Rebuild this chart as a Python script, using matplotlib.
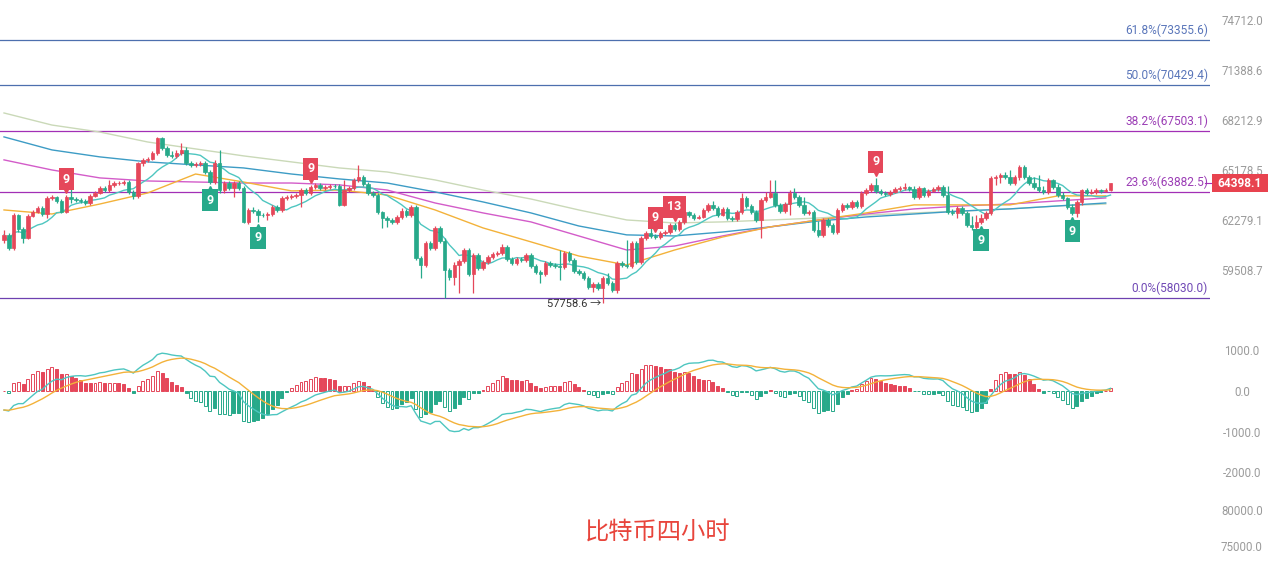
import numpy as np
import matplotlib
matplotlib.use("Agg")
import matplotlib.pyplot as plt
from matplotlib.ticker import FixedLocator, NullLocator, FormatStrFormatter
from matplotlib.transforms import blended_transform_factory, offset_copy, IdentityTransform
from matplotlib.patches import Rectangle

plt.rcParams['font.family'] = ['Roboto', 'Noto Sans CJK SC', 'DejaVu Sans']

# ---------------- data (4h BTC candles) ----------------
first_open = 61160
close = [61440, 60710, 62560, 61770, 61270, 62510, 62740, 62960, 62620, 63540,
         63600, 63370, 62740, 63600, 63480, 63420, 63370, 63250, 63660, 63830,
         64120, 64000, 64300, 64410, 64420, 64470, 63890, 63660, 65600, 65780,
         65840, 66200, 67110, 66500, 66080, 66020, 66200, 66380, 65600, 65480,
         65540, 65600, 65060, 64470, 65600, 64000, 64410, 64120, 64410, 64120,
         62170, 62850, 62790, 62560, 62550, 62620, 63020, 62850, 63540, 63600,
         63660, 63710, 64000, 63830, 64180, 64300, 64120, 64180, 64240, 64230,
         63140, 64000, 64120, 64590, 64770, 64350, 63830, 63710, 62740, 62390,
         62280, 62170, 62450, 62790, 62560, 63020, 60160, 59780, 60990, 60710,
         61830, 61100, 59510, 59130, 59780, 60000, 60600, 59290, 60330, 59620,
         59950, 60220, 60380, 60440, 60770, 60110, 59890, 60110, 60050, 60330,
         59730, 59400, 59290, 59890, 59780, 59730, 59670, 60440, 60050, 59460,
         59350, 59080, 58600, 58760, 58540, 59080, 58810, 58440, 59890, 59780,
         59730, 60990, 59950, 61270, 61550, 61380, 61320, 61550, 61600, 62000,
         61770, 62170, 62740, 62560, 62390, 62450, 62850, 63140, 62960, 62560,
         62910, 62390, 62340, 62740, 63540, 63080, 62740, 62280, 63420, 63600,
         63830, 63140, 62790, 63190, 63830, 63600, 63140, 62680, 62740, 61720,
         61440, 62280, 62000, 61600, 62850, 63140, 63020, 63310, 63080, 63830,
         64000, 64300, 63950, 63830, 63770, 63890, 64060, 64120, 64180, 64060,
         63600, 64120, 63710, 63950, 64060, 64180, 63710, 62740, 62680, 62960,
         62680, 62000, 61890, 62170, 62390, 62680, 64710, 64770, 64880, 64770,
         64410, 64770, 65360, 64770, 64410, 64180, 64000, 63890, 64590, 64180,
         63710, 63540, 63020, 62680, 63310, 64000, 63830, 63890, 64000, 63950,
         64000, 64398.1]
high = [61720, 61550, 62680, 62620, 61890, 62620, 62850, 63080, 63080, 63660,
        63710, 63660, 63480, 63710, 64180, 63600, 63540, 63480, 63770, 63950,
        64240, 64240, 64590, 64530, 64530, 64590, 64590, 64000, 65660, 65900,
        65960, 66320, 67170, 67170, 66620, 66320, 66380, 66800, 66560, 65720,
        65660, 65720, 65720, 65180, 65780, 66380, 64530, 64530, 64530, 64530,
        64240, 62960, 63020, 62910, 62680, 62740, 63140, 63140, 63660, 63710,
        63770, 63830, 64120, 64120, 64300, 64410, 64410, 64300, 64350, 64350,
        64350, 64590, 64240, 64710, 65480, 64880, 64470, 63950, 63830, 62790,
        62510, 62390, 62560, 62960, 62910, 63140, 63140, 60270, 61100, 61100,
        61940, 61940, 61270, 59620, 59950, 60110, 60710, 60710, 60440, 60440,
        60050, 60330, 60490, 60550, 60940, 60880, 60220, 60220, 60220, 60440,
        60440, 59840, 59510, 60000, 60000, 59890, 60600, 60550, 60550, 60160,
        59560, 59460, 59190, 58860, 58860, 59190, 59350, 58920, 60000, 60000,
        61160, 61100, 61100, 61380, 61660, 61940, 61490, 61660, 61720, 62110,
        62110, 62280, 62850, 62790, 62680, 62560, 62960, 63250, 63370, 63080,
        63020, 63020, 62510, 62850, 63830, 63660, 63190, 62850, 63540, 63890,
        64590, 64590, 63250, 63310, 64000, 64120, 63710, 63600, 62850, 62850,
        62220, 62390, 62390, 62110, 62960, 63250, 63250, 63420, 63420, 63950,
        64120, 64410, 64710, 64060, 63950, 64000, 64180, 64240, 64410, 64240,
        64240, 64240, 64180, 64060, 64180, 64300, 64300, 64240, 62910, 63080,
        63080, 62790, 62510, 62560, 62620, 62790, 64820, 64880, 65000, 65060,
        65180, 64880, 65480, 65480, 64880, 64770, 64880, 64240, 64710, 64650,
        64350, 63890, 63600, 63190, 63420, 64060, 64120, 64060, 64120, 64060,
        64120, 64430]
low = [60990, 60600, 60600, 61600, 60990, 61210, 62450, 62680, 62510, 62390,
       63420, 63250, 62680, 62680, 63250, 63310, 63250, 63140, 63140, 63600,
       63770, 63890, 63890, 64180, 64300, 64300, 63770, 63480, 63540, 65420,
       65660, 65780, 66080, 66380, 65960, 65900, 65900, 66080, 65480, 65360,
       65360, 65420, 64940, 64350, 64350, 63830, 63830, 64000, 63600, 64000,
       62110, 62050, 62680, 62170, 62450, 62280, 62510, 62740, 62740, 63420,
       63480, 63540, 63020, 63710, 63710, 64060, 64000, 64000, 64060, 64120,
       63080, 63080, 63890, 64000, 64470, 64240, 63710, 63600, 62620, 61830,
       61890, 62050, 62050, 62340, 62450, 62450, 60050, 59080, 59670, 60600,
       60600, 60990, 58030, 58970, 58700, 58280, 59890, 59190, 58280, 59510,
       59510, 59840, 60110, 60270, 60330, 60000, 59780, 59780, 59950, 59950,
       59620, 59290, 58810, 59190, 59670, 59620, 58970, 59560, 59950, 59350,
       59240, 58970, 58490, 58330, 58440, 57758.6, 58700, 58330, 58280, 59670,
       59620, 59620, 59840, 59840, 61160, 61270, 61210, 61210, 61440, 61490,
       61660, 61660, 62050, 62450, 62280, 62340, 62390, 62740, 62850, 62450,
       62510, 62280, 62220, 62220, 62620, 62960, 62620, 62170, 61270, 63310,
       63540, 63020, 62680, 62680, 62560, 63480, 63020, 62560, 62560, 61600,
       61320, 61320, 61890, 61490, 61490, 62740, 62910, 62910, 62960, 62960,
       63710, 63890, 63830, 63710, 63660, 63660, 63830, 63950, 64000, 63950,
       63480, 63480, 63600, 63600, 63890, 63950, 63600, 62620, 62560, 62390,
       62560, 61890, 61720, 61770, 62050, 62280, 62560, 64300, 64410, 64650,
       64300, 64300, 64590, 64650, 64300, 64060, 63890, 63770, 63770, 64060,
       63600, 63420, 62910, 62560, 62450, 63140, 63710, 63770, 63770, 63830,
       63890, 63950]

# moving averages every 10 candles
ma_index = list(range(0, 231, 10))
ma_200 = [68650, 67900, 67470, 66860, 66440, 66020, 65660, 65300, 65060, 64590,
          64000, 63480, 62850, 62280, 62110, 62170, 62280, 62390, 62560, 62680,
          62790, 62910, 63080, 63190]
ma_120 = [67170, 66380, 65960, 65660, 65480, 65300, 64940, 64650, 64410, 63890,
          63310, 62680, 61940, 61440, 61380, 61600, 61890, 62220, 62450, 62620,
          62790, 62910, 63080, 63250]
ma_60 = [65780, 65180, 64710, 64530, 64470, 64410, 64410, 64300, 64000, 63250,
         62680, 62170, 61380, 60600, 60820, 61380, 61890, 62280, 62620, 62910,
         63080, 63190, 63370, 63540]
ma_30 = [62850, 62620, 63190, 63830, 64940, 64470, 63950, 64000, 63710, 62850,
         61830, 61050, 60270, 59780, 60600, 61320, 61890, 62280, 62680, 63140,
         63140, 63140, 63660, 63660]
fast_window = 10

fib_levels = [73355.6, 70429.4, 67503.1, 63882.5, 58030.0]
fib_labels = ['61.8%(73355.6)', '50.0%(70429.4)', '38.2%(67503.1)',
              '23.6%(63882.5)', '0.0%(58030.0)']
price_ticks = [74712.0, 71388.6, 68212.9, 65178.5, 62279.1, 59508.7]
macd_ticks = [1000.0, 0.0, -1000.0, -2000.0]
bottom_ticks = [80000.0, 75000.0]
td_sell = [(13, '9'), (64, '9'), (136, '9'), (140, '13'), (182, '9')]
td_buy = [(43, '9'), (53, '9'), (204, '9'), (223, '9')]
low_mark_index, low_mark_value = 125, 57758.6
dif_start, dea_start = -470.0, -470.0
last_price = 64398.1
title = '比特币四小时'

# ---------------- styles ----------------
RED = '#e5475a'
GREEN = '#27a98a'
C_FAST = '#4ec6c0'
C_30 = '#f3b23a'
C_60 = '#d35cc9'
C_120 = '#3d9cc5'
C_200 = '#cad9b8'
FIB_COL = ['#4d6fae', '#4d6fae', '#a22fb6', '#a22fb6', '#6e40b0']
FIB_TXT = ['#5a76ba', '#5a76ba', '#9b3db5', '#9b3db5', '#7049b5']
TICK_COL = '#9b9b9b'

W, H = 1268, 563
fig = plt.figure(figsize=(W / 100, H / 100), dpi=100)
fig.patch.set_facecolor('white')
plot_w = 1210 / W
ax = fig.add_axes([0, 1 - 320 / H, plot_w, 320 / H])
axm = fig.add_axes([0, 1 - 490 / H, plot_w, 160 / H])
axb = fig.add_axes([0, 0, plot_w, 71 / H])

n = len(close)
idx = np.arange(n)
opens = np.array([first_open] + close[:-1], dtype=float)
cl = np.array(close, dtype=float)
hi = np.array(high, dtype=float)
lo = np.array(low, dtype=float)
up = cl >= opens
cols = np.where(up, RED, GREEN)

xlim = (-0.835, 251.77)
for a in (ax, axm, axb):
    a.set_xlim(*xlim)
    for s in a.spines.values():
        s.set_visible(False)
    a.xaxis.set_major_locator(NullLocator())
    a.yaxis.tick_right()
    a.tick_params(axis='y', length=0, pad=23, labelsize=8.3, labelcolor=TICK_COL)

# ---------------- main panel ----------------
ax.set_yscale('log')
ax.set_ylim(56860, 76084)
ax.yaxis.set_major_locator(FixedLocator(price_ticks))
ax.yaxis.set_minor_locator(NullLocator())
ax.yaxis.set_major_formatter(FormatStrFormatter('%.1f'))
ax.yaxis.set_minor_formatter(matplotlib.ticker.NullFormatter())

for lvl, lab, lc, tc in zip(fib_levels, fib_labels, FIB_COL, FIB_TXT):
    ax.plot([xlim[0], xlim[1]], [lvl, lvl], color=lc, lw=0.9, zorder=1)
    ax.annotate(lab, xy=(1.0, lvl), xycoords=blended_transform_factory(ax.transAxes, ax.transData),
                xytext=(-2, 3), textcoords='offset pixels', ha='right', va='bottom',
                fontsize=8.6, color=tc)

ax.plot(ma_index, ma_200, color=C_200, lw=1.0, zorder=2)
ax.plot(ma_index, ma_120, color=C_120, lw=1.0, zorder=2)
ax.plot(ma_index, ma_60, color=C_60, lw=1.0, zorder=2)
ax.plot(ma_index, ma_30, color=C_30, lw=1.0, zorder=2)
fast = np.array([cl[max(0, k - fast_window + 1):k + 1].mean() for k in range(n)])
ax.plot(idx, fast, color=C_FAST, lw=1.0, zorder=2)

ax.vlines(idx, lo, hi, colors=cols, lw=0.9, zorder=3)
ax.bar(idx, np.abs(cl - opens), bottom=np.minimum(cl, opens), width=0.72,
       color=cols, edgecolor=cols, linewidth=0.5, zorder=4)

# TD sequential markers
for i, t in td_sell:
    ax.annotate(t, xy=(i, hi[i]), xytext=(0, 16), textcoords='offset pixels',
                ha='center', va='center', color='white', fontsize=9, fontweight='bold',
                bbox=dict(boxstyle='square,pad=0.33', fc=RED, ec='none'), zorder=6)
    tr = offset_copy(ax.transData, fig=fig, x=0, y=5, units='dots')
    ax.plot([i], [hi[i]], marker='v', ms=4, color=RED, transform=tr, zorder=6)
for i, t in td_buy:
    ax.annotate(t, xy=(i, lo[i]), xytext=(0, -16), textcoords='offset pixels',
                ha='center', va='center', color='white', fontsize=9, fontweight='bold',
                bbox=dict(boxstyle='square,pad=0.33', fc=GREEN, ec='none'), zorder=6)
    tr = offset_copy(ax.transData, fig=fig, x=0, y=-5, units='dots')
    ax.plot([i], [lo[i]], marker='^', ms=4, color=GREEN, transform=tr, zorder=6)

ax.annotate(f'{low_mark_value:.1f} \u2192', xy=(low_mark_index, low_mark_value),
            xytext=(-2, -1), textcoords='offset pixels', ha='right', va='center',
            fontsize=8, color='#333333', zorder=6)

# ---------------- MACD panel ----------------
a12, a26, a9 = 2 / 13, 2 / 27, 2 / 10
e12 = np.empty(n); e26 = np.empty(n)
e12[0] = cl[0]; e26[0] = cl[0] - dif_start
for k in range(1, n):
    e12[k] = e12[k - 1] + a12 * (cl[k] - e12[k - 1])
    e26[k] = e26[k - 1] + a26 * (cl[k] - e26[k - 1])
dif = e12 - e26
dea = np.empty(n); dea[0] = dea_start
for k in range(1, n):
    dea[k] = dea[k - 1] + a9 * (dif[k] - dea[k - 1])
hist = 2 * (dif - dea)

axm.set_ylim(-2444, 1506)
axm.yaxis.set_major_locator(FixedLocator(macd_ticks))
axm.yaxis.set_major_formatter(FormatStrFormatter('%.1f'))
for k in range(n):
    v = hist[k]
    col = RED if v >= 0 else GREEN
    growing = k > 0 and abs(v) > abs(hist[k - 1])
    fc = 'white' if growing else col
    axm.bar(k, v, width=0.62, color=fc, edgecolor=col, linewidth=0.7, zorder=2)
axm.plot(idx, dif, color=C_FAST, lw=1.0, zorder=3)
axm.plot(idx, dea, color=C_30, lw=1.0, zorder=3)

# ---------------- bottom panel ----------------
axb.set_ylim(72639, 82500)
axb.yaxis.set_major_locator(FixedLocator(bottom_ticks))
axb.yaxis.set_major_formatter(FormatStrFormatter('%.1f'))

fig.canvas.draw()
for a in (ax, axm, axb):
    for lab in a.get_yticklabels():
        lab.set_ha('center')

# current price box
yd = ax.transData.transform((0, last_price))[1]
fig.add_artist(Rectangle((1212, yd - 9), 56, 18, transform=IdentityTransform(),
                         facecolor='#e8434f', edgecolor='none', zorder=10))
fig.add_artist(matplotlib.lines.Line2D([1205, 1212], [yd, yd], transform=IdentityTransform(),
                                       color='#a22fb6', lw=0.8))
fig.text(1240 / W, yd / H, f'{last_price:.1f}', ha='center', va='center',
         color='white', fontsize=8.6, fontweight='bold', zorder=11)

fig.text(658 / W, 1 - 532 / H, title, ha='center', va='center', color='#e8453c',
         fontsize=17.5, family=['Noto Sans CJK SC', 'DejaVu Sans'])

fig.savefig('out.png', dpi=100)
